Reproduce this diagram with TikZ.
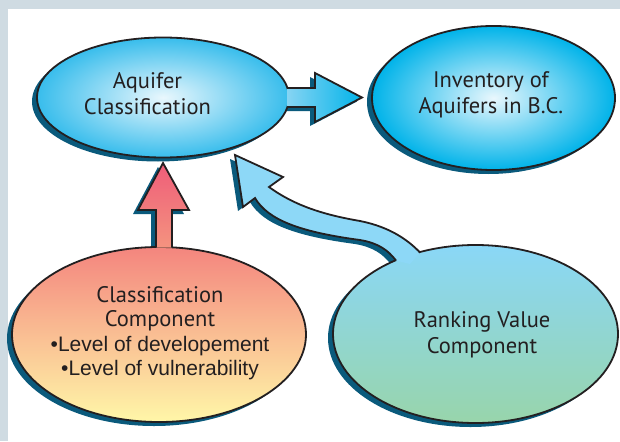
\documentclass[tikz,border=0pt]{standalone}
\usepackage{fontspec}
\setmainfont{PT Sans}
\newfontfamily\listfont{Liberation Sans}
\usetikzlibrary{shapes.geometric}

\definecolor{frame}{HTML}{CFDBE2}
\definecolor{castc}{HTML}{0A5A7C}
\definecolor{ink}{HTML}{231F20}
\definecolor{lightcore}{HTML}{E9F7FD}
\definecolor{cyanrim}{HTML}{38BDEC}
\definecolor{deepcyan}{HTML}{00B3E9}
\definecolor{paleshaft}{HTML}{86D4F3}
\definecolor{rosetop}{HTML}{F4857E}
\definecolor{peach}{HTML}{FBC595}
\definecolor{lemon}{HTML}{FFF7A8}
\definecolor{skytop}{HTML}{8AD7F7}
\definecolor{mint}{HTML}{98D5AB}
\definecolor{redtip}{HTML}{EF5D79}
\definecolor{redbase}{HTML}{F4937F}
\definecolor{sky}{HTML}{8DD8F7}

\tikzset{ bub/.style = { ellipse % bubble
        , draw = ink
        , line width = 1.8pt
        , inner sep = 0pt
        }
        , dark/.style = { ellipse % cast shadow
        , fill = castc
        , inner sep = 0pt
        }
        , rim/.style = { draw = ink % arrow outline
        , line width = 1.8pt
        , line join = miter
        }
        , lbl/.style = { align = center % text
        , text = ink
        , font = \fontsize{22.5}{26}\selectfont
        }
}
% block arrows, open at the end that sits in a bubble
\def\pathinv{(287,88) -- (315,88) -- (315,73) -- (362,97.5) -- (315,122) -- (315,107) -- (287,107)}
\def\pathcls{(156,247.5) -- (156,210) -- (138,210) -- (163,163) -- (189,210) -- (172,210) -- (172,247.5)}
\def\pathrank{(396,260.5) .. controls (388,250) and (378,243) .. (360,240)
              .. controls (300,232) and (268,220) .. (255,198) -- (243,207) -- (235,155)
              -- (283,177) -- (269,187) .. controls (295,206) and (325,215) .. (360,221)
              .. controls (390,227) and (408,240) .. (420,252.5)}

\begin{document}
\begin{tikzpicture}[x=1pt, y=-1pt]
    \useasboundingbox (0,0) rectangle (620,441);
    \fill[frame] (0,0) rectangle (620,441);
    \fill[white] (8,9) rectangle (620,441);

    % shadows first
    \begin{scope}[shift={(-5,4)}]
        \foreach[count=\n] \x/\y/\w/\h in {163/97.5/252/120, 493.5/98/243/144, 159/334.5/294/175, 475.5/334/285/178}
            \node[dark, minimum width=\w pt, minimum height=\h pt] (cast\n) at (\x,\y) {};
        \fill[castc] \pathinv;
        \fill[castc] \pathcls;
        \fill[castc] \pathrank;
    \end{scope}

    \node[bub, inner color=lightcore, outer color=cyanrim, minimum width=252pt, minimum height=120pt] (aqcls) at (163,97.5) {};
    \node[bub, inner color=lightcore, outer color=deepcyan, minimum width=243pt, minimum height=144pt] (inventory) at (493.5,98) {};
    \node[bub, top color=rosetop, middle color=peach, bottom color=lemon, minimum width=294pt, minimum height=175pt] (clscomp) at (159,334.5) {};
    \node[bub, top color=skytop, bottom color=mint, minimum width=285pt, minimum height=178pt] (rankval) at (475.5,334) {};

    \path[rim, left color=paleshaft, right color=deepcyan] \pathinv;
    \path[rim, top color=redtip, bottom color=redbase] \pathcls;
    \fill[sky] \pathrank -- (410,264) -- cycle;
    \draw[rim] \pathrank;

    \node[lbl] (aqclstxt) at (147.5,94) {Aquifer\\Classification};
    \node[lbl] (invtxt) at (491,95) {Inventory of\\Aquifers in B.C.};
    \node[lbl] (ranktxt) at (482,334.5) {Ranking Value\\Component};
    \node[lbl, font=\fontsize{22.5}{24.5}\selectfont] (clstxt) at (160,333)
        {Classification\\Component\\{\fontsize{21}{24.5}\listfont •Level of developement}\\{\fontsize{21}{24.5}\listfont •Level of vulnerability}};
\end{tikzpicture}
\end{document}
